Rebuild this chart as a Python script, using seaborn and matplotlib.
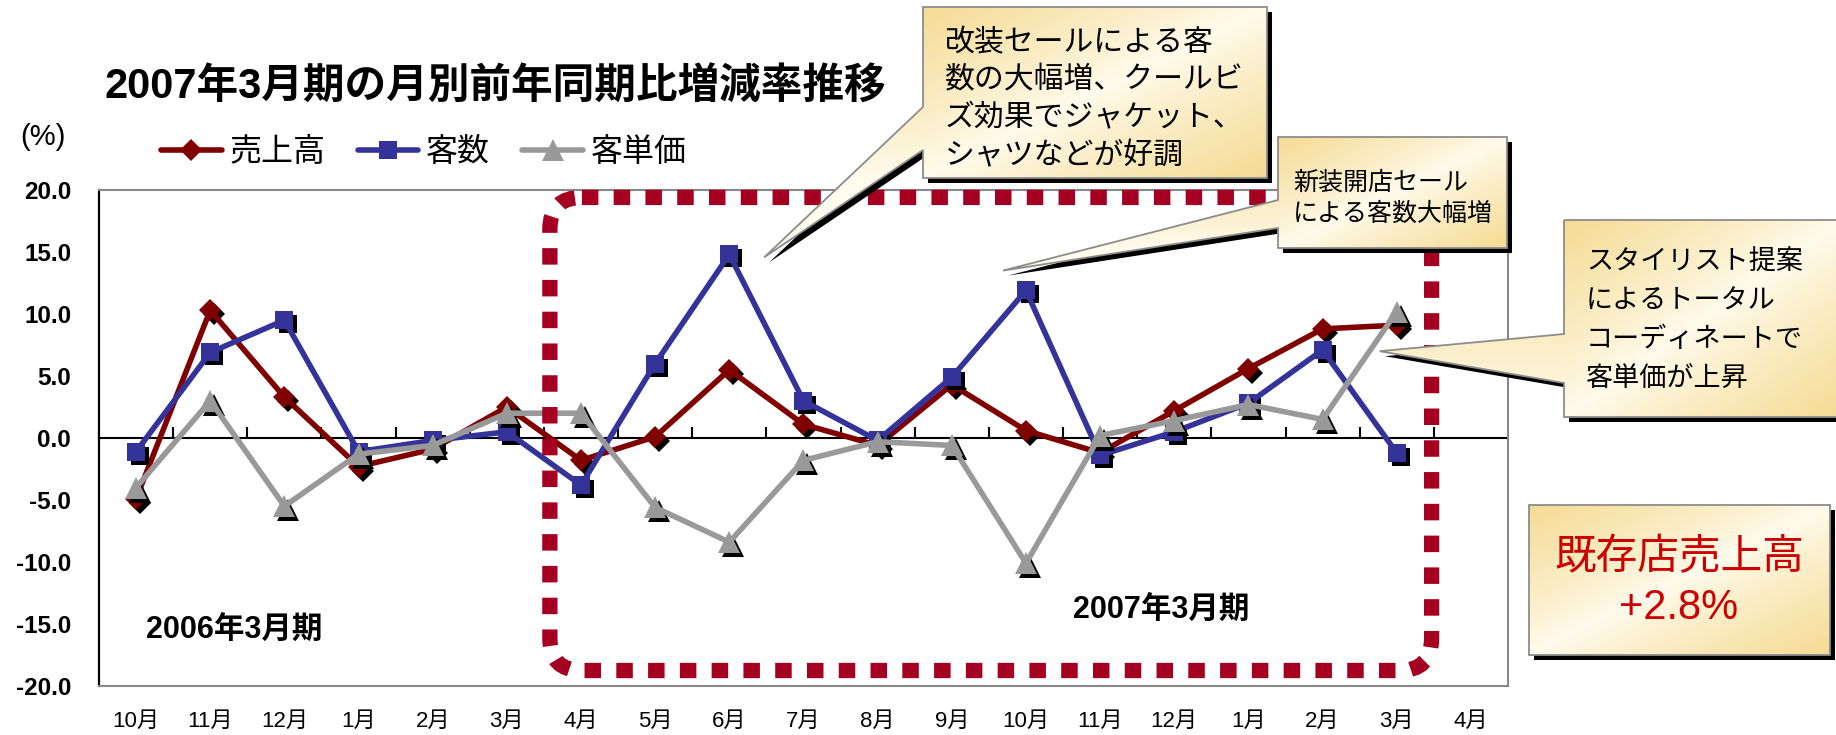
import numpy as np
import pandas as pd
import matplotlib
matplotlib.use("Agg")
import matplotlib.pyplot as plt
import seaborn as sns
from matplotlib.patches import Polygon, FancyBboxPatch
from matplotlib.transforms import offset_copy

# ---- data -------------------------------------------------------------
months = ["10月", "11月", "12月", "1月", "2月", "3月", "4月", "5月", "6月", "7月",
          "8月", "9月", "10月", "11月", "12月", "1月", "2月", "3月", "4月"]
series_names = ["売上高", "客数", "客単価"]
sales = [-4.9, 10.3, 3.3, -2.3, -0.9, 2.5, -1.8, 0.1, 5.5, 1.1, -0.6, 4.3,
         0.6, -1.2, 2.2, 5.6, 8.8, 9.1]
customers = [-1.1, 6.9, 9.5, -1.1, -0.2, 0.5, -3.8, 6.0, 14.8, 3.0, -0.2, 4.9,
             11.9, -1.4, 0.5, 2.8, 7.1, -1.2]
unit_price = [-4.0, 3.0, -5.5, -1.3, -0.6, 2.0, 2.0, -5.6, -8.4, -1.8, -0.3, -0.6,
              -10.1, 0.2, 1.4, 2.7, 1.5, 10.2]
y_ticks = [-20, -15, -10, -5, 0, 5, 10, 15, 20]

title = "2007年3月期の月別前年同期比増減率推移"
period_prev = "2006年3月期"
period_curr = "2007年3月期"
note_renewal = ["改装セールによる客", "数の大幅増、クールビ", "ズ効果でジャケット、", "シャツなどが好調"]
note_newstore = ["新装開店セール", "による客数大幅増"]
note_stylist = ["スタイリスト提案", "によるトータル", "コーディネートで", "客単価が上昇"]
note_existing = ["既存店売上高", "+2.8%"]

df = pd.DataFrame({
    "pos": np.tile(np.arange(len(sales)), 3),
    "value": sales + customers + unit_price,
    "series": np.repeat(series_names, len(sales)),
})

# ---- style ------------------------------------------------------------
sns.set_theme(style="white")
plt.rcParams["font.family"] = ["Liberation Sans", "Noto Sans CJK JP", "DejaVu Sans"]
plt.rcParams["axes.unicode_minus"] = False
for key in ["text.color", "axes.labelcolor", "xtick.color", "ytick.color"]:
    plt.rcParams[key] = "black"

W, H = 1836, 735
fig = plt.figure(figsize=(W / 100, H / 100), dpi=100)
fig.patch.set_facecolor("white")
ax = fig.add_axes([99 / W, 1 - 686 / H, (1508 - 99) / W, (686 - 190) / H])
ax.set_facecolor("white")

styles = {
    "売上高": dict(color="#800000", marker="D", ms=11.5),
    "客数": dict(color="#333399", marker="s", ms=13.5),
    "客単価": dict(color="#999999", marker="^", ms=16),
}

shadow_tr = offset_copy(ax.transData, fig=fig, x=4, y=-4, units="dots")
handles = []
for i, name in enumerate(series_names):
    st = styles[name]
    sub = df[df["series"] == name]
    z = 3 + i * 3
    ax.plot(sub["pos"], sub["value"], linestyle="none", marker=st["marker"],
            ms=st["ms"], color="black", mew=0, transform=shadow_tr, zorder=z)
    sns.lineplot(data=sub, x="pos", y="value", color=st["color"], marker=st["marker"],
                 markersize=st["ms"], markeredgewidth=0, linewidth=4.0,
                 errorbar=None, ax=ax, zorder=z + 1, label=name, legend=False)
    handles.append(ax.lines[-1])

ax.set_xlim(-0.5, len(months) - 0.5)
ax.set_ylim(-20, 20)
ax.set_xlabel("")
ax.set_ylabel("")

ax.set_xticks(range(len(months)))
ax.set_xticklabels(months, fontsize=16)
ax.tick_params(axis="x", length=0, pad=18, colors="black")
ax.set_yticks(y_ticks)
ax.set_yticklabels([f"{v:.1f}" for v in y_ticks], fontsize=17.5, fontweight="bold")
ax.tick_params(axis="y", direction="in", length=9, width=1.5, pad=20, colors="black")

for side in ["top", "right", "bottom"]:
    ax.spines[side].set_color("#888888")
    ax.spines[side].set_linewidth(1.5)
ax.spines["left"].set_color("black")
ax.spines["left"].set_linewidth(1.6)

# zero line with category boundary ticks
zero_axis = ax.secondary_xaxis(0.5)
zero_axis.set_xticks(np.arange(0.5, len(sales), 1.0))
zero_axis.tick_params(axis="x", direction="out", length=8, width=1.5,
                      labeltop=False, labelbottom=False, colors="black")
for s in zero_axis.spines.values():
    s.set_color("black")
    s.set_linewidth(1.5)

ax.text(0.13, -15.5, period_prev, fontsize=22, fontweight="bold", ha="left", va="center")
ax.text(13.83, -13.9, period_curr, fontsize=22, fontweight="bold", ha="center", va="center")

leg = ax.legend(handles, series_names, loc="center left",
                bbox_to_anchor=(161 / W, 1 - 153 / H), bbox_transform=fig.transFigure,
                ncol=3, frameon=False, fontsize=23, handlelength=1.9,
                handletextpad=0.25, columnspacing=1.0, borderpad=0, borderaxespad=0)

fig.text(104 / W, 1 - 87 / H, title, fontsize=30, fontweight="bold", ha="left", va="center")
fig.text(20 / W, 1 - 137 / H, "(%)", fontsize=21, ha="left", va="center")

# ---- overlay in pixel coordinates (y downward) ------------------------
ov = fig.add_axes([0, 0, 1, 1])
ov.set_xlim(0, W)
ov.set_ylim(H, 0)
ov.set_autoscale_on(False)
ov.axis("off")
ov.patch.set_alpha(0)


def to_px(x, y):
    dx, dy = ax.transData.transform((x, y))
    return dx, H - dy


# dotted rounded frame around the current fiscal year
fx0, fy0 = to_px(5.58, 19.4)
fx1, fy1 = to_px(17.47, -18.75)
frame = FancyBboxPatch((fx0, fy0), fx1 - fx0, fy1 - fy0,
                       boxstyle="round,pad=0,rounding_size=32",
                       fc="none", ec="#A50021", lw=11,
                       linestyle=(0, (1.08, 1.0)), capstyle="butt", zorder=2)
ov.add_patch(frame)

gold = np.array([0.96, 0.86, 0.58])
light = np.array([1.0, 0.985, 0.93])


def callout(box, tail=None):
    x0, y0, x1, y1 = box
    if tail is not None:
        ya, yb, tip = tail
        verts = [(x0, y0), (x1, y0), (x1, y1), (x0, y1), (x0, yb), tip, (x0, ya)]
    else:
        verts = [(x0, y0), (x1, y0), (x1, y1), (x0, y1)]
    ov.add_patch(Polygon([(vx + 5, vy + 5) for vx, vy in verts], closed=True,
                         fc="black", ec="none", zorder=5))
    xs = [v[0] for v in verts]
    ys = [v[1] for v in verts]
    gx0, gx1, gy0, gy1 = min(xs), max(xs), min(ys), max(ys)
    nx, ny = int(gx1 - gx0) + 2, int(gy1 - gy0) + 2
    X, Y = np.meshgrid(np.linspace(gx0, gx1, nx), np.linspace(gy0, gy1, ny))
    u = np.clip((X - x0) / (x1 - x0), 0, 1)
    v = np.clip((Y - y0) / (y1 - y0), 0, 1)
    f = np.abs(u + v - 1.0) ** 0.85
    img = light + (gold - light) * f[..., None]
    im = ov.imshow(img, extent=(gx0, gx1, gy1, gy0), origin="upper",
                   interpolation="bilinear", aspect="auto", zorder=6)
    im.set_clip_path(Polygon(verts, closed=True, transform=ov.transData))
    ov.add_patch(Polygon(verts, closed=True, fc="none", ec="#8c8c8c", lw=1.3, zorder=7))


def write_lines(lines, x, y_first, step, size, color="black", ha="left"):
    for k, s in enumerate(lines):
        ov.text(x, y_first + k * step, s, fontsize=size, color=color,
                ha=ha, va="center", zorder=8)


callout((923, 7, 1267, 178), tail=(107, 150, to_px(8.47, 14.57)))
write_lines(note_renewal, 945, 43, 37.7, 21.5)

callout((1278, 137, 1507, 248), tail=(200, 228, to_px(11.69, 13.5)))
write_lines(note_newstore, 1293, 183, 31, 18)

callout((1564, 220, 1842, 417), tail=(334, 383, to_px(16.77, 7.0)))
write_lines(note_stylist, 1586, 263, 38.5, 19.5)

callout((1529, 505, 1830, 655))
write_lines(note_existing, 1679, 558, 50, 30, color="#CC0000", ha="center")

ov.set_xlim(0, W)
ov.set_ylim(H, 0)

fig.savefig("out.png", dpi=100, facecolor="white")
